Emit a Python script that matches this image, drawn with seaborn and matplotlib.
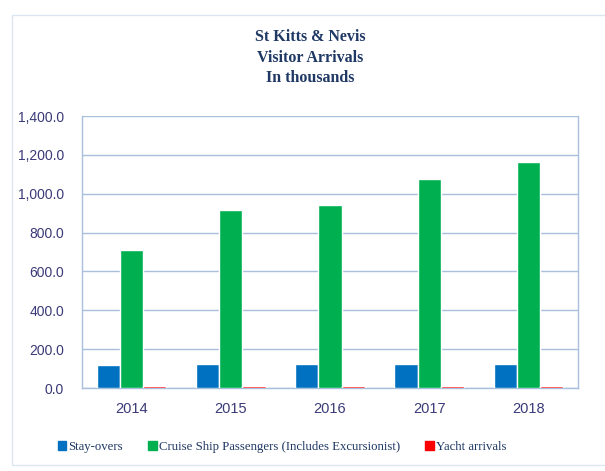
import matplotlib
matplotlib.use("Agg")
import matplotlib.pyplot as plt
import seaborn as sns
import pandas as pd
from matplotlib.patches import Rectangle
from matplotlib.ticker import FuncFormatter

years = ["2014", "2015", "2016", "2017", "2018"]
series_names = ["Stay-overs", "Cruise Ship Passengers (Includes Excursionist)", "Yacht arrivals"]
stay_overs = [116.0, 123.0, 122.0, 123.0, 123.0]
cruise = [710.0, 918.0, 941.0, 1075.0, 1161.0]
yacht = [8.0, 8.0, 8.0, 8.0, 8.0]
colors = ["#0070C0", "#00B050", "#FF0000"]

rows = []
for name, vals in zip(series_names, [stay_overs, cruise, yacht]):
    for y, v in zip(years, vals):
        rows.append({"Year": y, "Series": name, "Value": v})
df = pd.DataFrame(rows)

sns.set_theme(style="white")
plt.rcParams["font.family"] = ["Liberation Sans", "DejaVu Sans"]

fig = plt.figure(figsize=(6.05, 4.71), dpi=100)
ax = fig.add_axes([82 / 605, 1 - 388 / 471, (578 - 82) / 605, (388 - 116) / 471])

sns.barplot(data=df, x="Year", y="Value", hue="Series", palette=colors,
            width=0.7, gap=0, ax=ax, saturation=1, legend=True, zorder=3)

ax.set_ylim(0, 1400)
ax.set_yticks([0, 200, 400, 600, 800, 1000, 1200, 1400])
ax.yaxis.set_major_formatter(FuncFormatter(lambda v, p: f"{v:,.1f}"))
ax.grid(axis="y", color="#A8C0DC", linewidth=1.0)
ax.set_axisbelow(True)
for s in ["left", "right", "bottom"]:
    ax.spines[s].set_color("#A8C0DC")
    ax.spines[s].set_linewidth(1.0)
    ax.spines[s].set_zorder(2)
ax.spines["top"].set_visible(False)
ax.set_xlabel("")
ax.set_ylabel("")
tick_color = "#3A3A78"
ax.tick_params(axis="y", colors=tick_color, labelsize=10, length=0, pad=13)
ax.tick_params(axis="x", colors=tick_color, labelsize=10.5, length=0, pad=10)

ax.legend_.remove()
handles = [Rectangle((0, 0), 1, 1, color=c) for c in colors]
fig.legend(handles, series_names, loc="center", bbox_to_anchor=(282 / 605, 1 - 447 / 471),
           ncol=3, frameon=False, handlelength=0.65, handleheight=0.75, handletextpad=0.15,
           columnspacing=2.0, prop={"family": "Liberation Serif", "size": 9.2},
           labelcolor="#1F3864")

fig.text(310 / 605, 1 - 57.5 / 471, "St Kitts & Nevis\nVisitor Arrivals\nIn thousands",
         ha="center", va="center", family="Liberation Serif", weight="bold",
         fontsize=11.5, color="#1F3864", linespacing=1.35)

fig.add_artist(Rectangle((12 / 605, 6 / 471), 600 / 605, (471 - 15 - 6) / 471,
                         transform=fig.transFigure, fill=False, edgecolor="#DCE6F0", linewidth=1.0))

fig.savefig("out.png", dpi=100)
